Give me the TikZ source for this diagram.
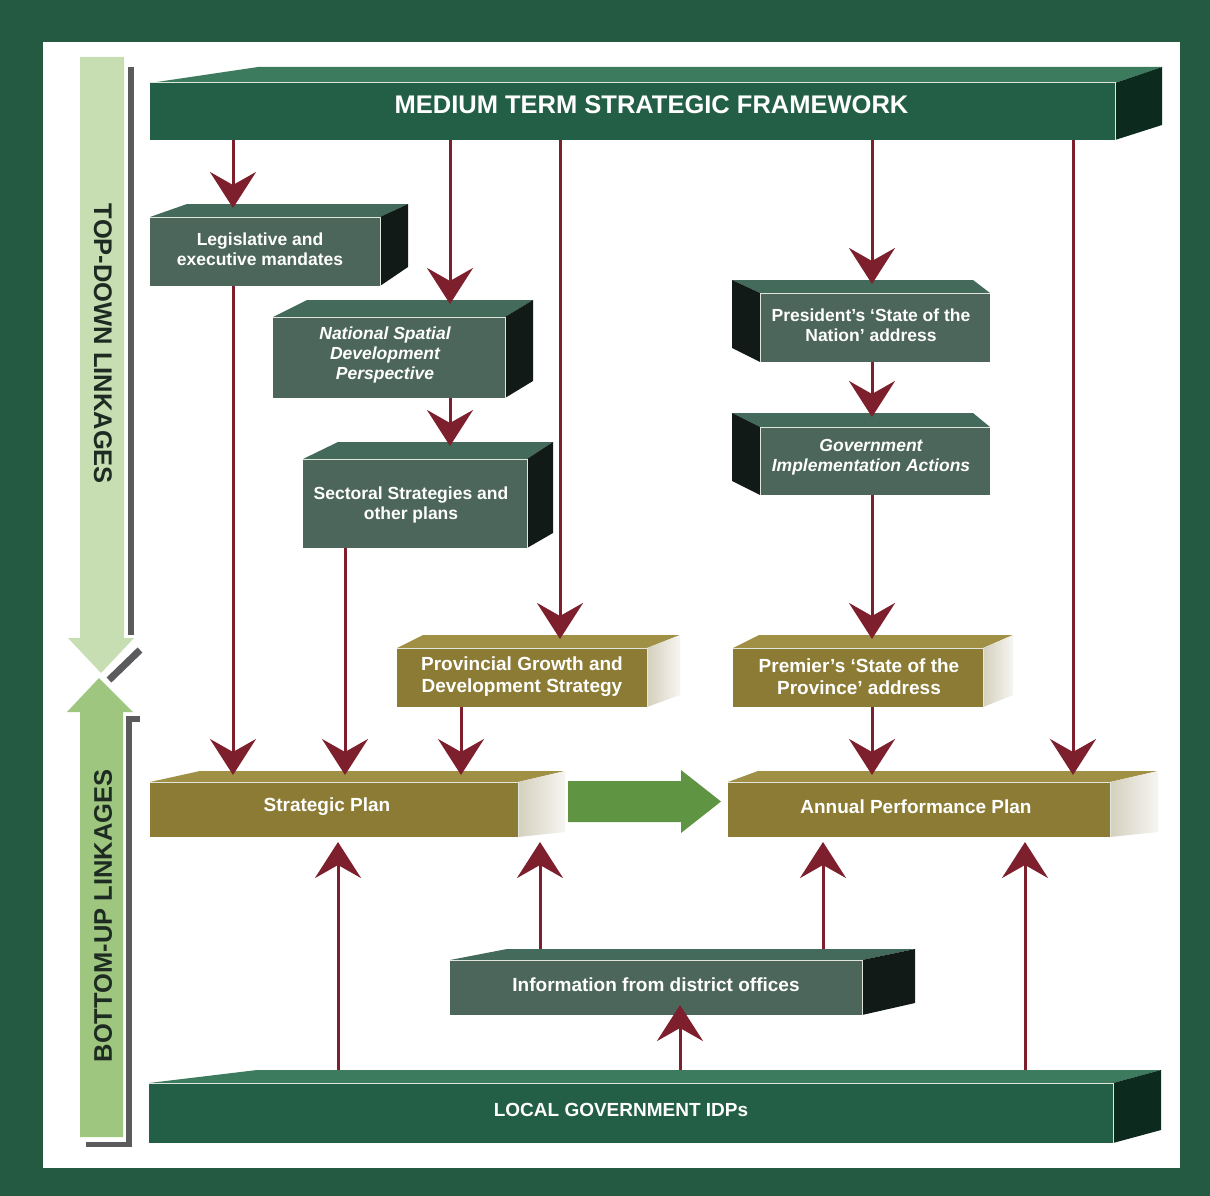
\documentclass[tikz,border=0pt]{standalone}
\usepackage{fontspec}
\setmainfont{Liberation Sans}
\usetikzlibrary{arrows.meta}

\definecolor{frame}{HTML}{235A41}
\definecolor{downgreen}{HTML}{C7DDB2}
\definecolor{upgreen}{HTML}{9FC67E}
\definecolor{shadowgray}{HTML}{5B5B5E}
\definecolor{linktext}{HTML}{1E2B22}
\definecolor{arrowred}{HTML}{7D1F2C}
\definecolor{bigarrow}{HTML}{5E9442}
\definecolor{grfront}{HTML}{235F46}
\definecolor{grtop}{HTML}{3D7B5E}
\definecolor{grside}{HTML}{0D2A1E}
\definecolor{slfront}{HTML}{4D665B}
\definecolor{sltop}{HTML}{436A5A}
\definecolor{slside}{HTML}{111A16}
\definecolor{olfront}{HTML}{8B7B34}
\definecolor{oltop}{HTML}{A09045}
\definecolor{olsideA}{HTML}{D4D0BF}
\definecolor{olsideB}{HTML}{F6F5F0}
\definecolor{edgelight}{HTML}{E0E6DC}

\newcommand\fsz[2]{\fontsize{#1}{#2}\selectfont\bfseries}

% settings of one 3D slab
\pgfkeys{
  /slab/.is family, /slab,
  d/.store in=\slabd,
  a/.store in=\slaba,
  s/.store in=\slabs,
  e/.store in=\slabe,
  dx/.store in=\slabdx,
  dy/.store in=\slabdy,
  f/.store in=\slabfont,
  t/.store in=\slabtext}

% slab with its end face on the right
% #2 family, #3 name, #4 x1, #5 y1, #6 x2, #7 y2 (front face)
\newcommand\slabR[7][]{%
  \pgfkeys{/slab,d=13,a=35,s=30,e=12,dx=0,dy=0,f=\fsz{17.5}{20},t={},#1}%
  \path[#2 top] (#4,#5) -- ({#4+\slaba},{#5-\slabd}) -- ({#6+\slabs},{#5-\slabd}) -- (#6,#5) -- cycle;
  \path[#2 side] (#6,#5) -- ({#6+\slabs},{#5-\slabd}) -- ({#6+\slabs},{#7-\slabe}) -- (#6,#7) -- cycle;
  \node[#2 front, minimum width={(#6-#4)*1pt}, minimum height={(#7-#5)*1pt}] (#3) at ({(#4+#6)/2},{(#5+#7)/2}) {};
  \draw[edge] (#3.north west) -- (#3.north east) -- (#3.south east);
  \coordinate (#3-back) at ({(#4+#6)/2},{#5-\slabd});
  \coordinate (#3-top) at ({(#4+#6)/2},{#5-\slabd+4});
  \node[boxtext, font=\slabfont] (#3-txt) at ([xshift=\slabdx*1pt, yshift=-\slabdy*1pt]#3.center) {\slabtext};
}

% slab with its end face on the left
\newcommand\slabL[7][]{%
  \pgfkeys{/slab,d=13,a=35,s=30,e=12,dx=0,dy=0,f=\fsz{17.5}{20},t={},#1}%
  \path[#2 top] (#6,#5) -- ({#6-\slaba},{#5-\slabd}) -- ({#4-\slabs},{#5-\slabd}) -- (#4,#5) -- cycle;
  \path[#2 side] (#4,#5) -- ({#4-\slabs},{#5-\slabd}) -- ({#4-\slabs},{#7-\slabe}) -- (#4,#7) -- cycle;
  \node[#2 front, minimum width={(#6-#4)*1pt}, minimum height={(#7-#5)*1pt}] (#3) at ({(#4+#6)/2},{(#5+#7)/2}) {};
  \draw[edge] (#3.north east) -- (#3.north west) -- (#3.south west);
  \coordinate (#3-back) at ({(#4+#6)/2},{#5-\slabd});
  \coordinate (#3-top) at ({(#4+#6)/2},{#5-\slabd+4});
  \node[boxtext, font=\slabfont] (#3-txt) at ([xshift=\slabdx*1pt, yshift=-\slabdy*1pt]#3.center) {\slabtext};
}

\tikzset{
  green top/.style={fill=grtop},
  green side/.style={fill=grside},
  green front/.style={fill=grfront, inner sep=0pt, outer sep=0pt},
  slate top/.style={fill=sltop},
  slate side/.style={fill=slside},
  slate front/.style={fill=slfront, inner sep=0pt, outer sep=0pt},
  olive top/.style={fill=oltop},
  olive side/.style={shade, shading=axis, left color=olsideA, right color=olsideB},
  olive front/.style={fill=olfront, inner sep=0pt, outer sep=0pt},
  edge/.style={draw=edgelight, line width=1pt},
  boxtext/.style={text=white, align=center, inner sep=0pt},
  linkage/.style={text=linktext, font=\fsz{25.5}{30}, inner sep=0pt},
  arr/.style={draw=arrowred, line width=3pt,
    -{Stealth[length=36pt, width=46pt, inset=13pt]}}
}

\begin{document}
\begin{tikzpicture}[x=1pt, y=-1pt]
\useasboundingbox (0,0) rectangle (1210,1196);
\fill[frame] (0,0) rectangle (1210,1196);
\fill[white] (43,42) rectangle (1180,1168);

% side banner: top-down and bottom-up linkages
\fill[shadowgray] (128,67) rectangle (134,635);
\draw[shadowgray, line width=7pt] (109,680) -- (140,650);
\fill[downgreen] (80,57) -- (124,57) -- (124,638) -- (134,638) -- (101,673)
  -- (68,638) -- (80,638) -- cycle;
\fill[shadowgray] (126,716) rectangle (132,1147);
\fill[shadowgray] (126,716) rectangle (140,722);
\fill[shadowgray] (86,1142) rectangle (132,1147);
\fill[upgreen] (99,678) -- (133,712) -- (123,712) -- (123,1137) -- (80,1137)
  -- (80,712) -- (67,712) -- cycle;
\node[linkage, rotate=-90] (tdl) at (103,344) {TOP-DOWN LINKAGES};
\node[linkage, rotate=90] (bul) at (103,916) {BOTTOM-UP LINKAGES};

% slabs
\slabR[a=108,d=16,s=47,e=15,dx=19,dy=-7,f=\fsz{25.5}{30},
  t={MEDIUM TERM STRATEGIC FRAMEWORK}]{green}{mtsf}{150}{83}{1115}{140}
\slabR[a=37,d=13,s=28,e=19,dx=-5,dy=-2,
  t={Legislative and\\executive mandates}]{slate}{leg}{150}{217}{380}{286}
\slabR[a=34,d=17,s=28,e=17,dx=-4,dy=-3,f=\fsz{17.5}{20}\itshape,
  t={National Spatial\\Development\\Perspective}]{slate}{nsdp}{273}{317}{505}{398}
\slabR[a=35,d=17,s=26,e=15,dx=-4,dy=1,
  t={Sectoral Strategies and\\other plans}]{slate}{sect}{303}{459}{527}{548}
\slabL[a=17,d=13,s=28,e=14,dx=-4,dy=-2,
  t={President’s ‘State of the\\Nation’ address}]{slate}{pres}{760}{293}{990}{362}
\slabL[a=17,d=14,s=28,e=14,dx=-4,dy=-4,f=\fsz{17.5}{20}\itshape,
  t={Government\\Implementation Actions}]{slate}{gov}{760}{427}{990}{495}
\slabR[a=26,d=13,s=33,e=12,dy=-1,f=\fsz{19}{22},
  t={Provincial Growth and\\Development Strategy}]{olive}{pgds}{397}{648}{647}{707}
\slabR[a=26,d=13,s=30,e=12,dx=1,dy=-1,f=\fsz{19}{22},
  t={Premier’s ‘State of the\\Province’ address}]{olive}{prem}{733}{648}{983}{707}
\slabR[a=50,d=11,s=47,e=5,dx=-7,dy=-3,f=\fsz{19}{22},
  t={Strategic Plan}]{olive}{sp}{150}{782}{518}{837}
\slabR[a=30,d=11,s=48,e=5,dx=-3,dy=-3,f=\fsz{19}{22},
  t={Annual Performance Plan}]{olive}{app}{728}{782}{1110}{837}
\slabR[a=57,d=11,s=53,e=12,dy=-3,f=\fsz{19}{22},
  t={Information from district offices}]{slate}{info}{450}{960}{862}{1015}
\slabR[a=108,d=13,s=48,e=13,dx=-10,dy=-3,f=\fsz{19}{22},
  t={LOCAL GOVERNMENT IDPs}]{green}{local}{149}{1083}{1113}{1143}

% plan to plan
\fill[bigarrow] (568,781) -- (681,781) -- (681,770) -- (721,801.5) -- (681,833)
  -- (681,822) -- (568,822) -- cycle;

% top-down connectors
\draw[arr] (mtsf.south -| 233,0) -- (leg-top -| 233,0);
\draw[arr] (mtsf.south -| 450,0) -- (nsdp-top -| 450,0);
\draw[arr] (mtsf.south -| 560,0) -- (pgds-top -| 560,0);
\draw[arr] (mtsf.south -| 872,0) -- (pres-top -| 872,0);
\draw[arr] (mtsf.south -| 1073,0) -- (app-top -| 1073,0);
\draw[arr] (leg.south -| 233,0) -- (sp-top -| 233,0);
\draw[arr] (nsdp.south -| 450,0) -- (sect-top -| 450,0);
\draw[arr] (sect.south -| 345,0) -- (sp-top -| 345,0);
\draw[arr] (pgds.south -| 461,0) -- (sp-top -| 461,0);
\draw[arr] (pres.south -| 872,0) -- (gov-top -| 872,0);
\draw[arr] (gov.south -| 872,0) -- (prem-top -| 872,0);
\draw[arr] (prem.south -| 872,0) -- (app-top -| 872,0);

% bottom-up connectors
\draw[arr, shorten >=5pt] (local-back -| 338,0) -- (sp.south -| 338,0);
\draw[arr, shorten >=5pt] (info-back -| 540,0) -- (sp.south -| 540,0);
\draw[arr, shorten >=5pt] (info-back -| 823,0) -- (app.south -| 823,0);
\draw[arr, shorten >=5pt] (local-back -| 1025,0) -- (app.south -| 1025,0);
\draw[arr, shorten >=-10pt] (local-back -| 680,0) -- (info.south -| 680,0);
\end{tikzpicture}
\end{document}
